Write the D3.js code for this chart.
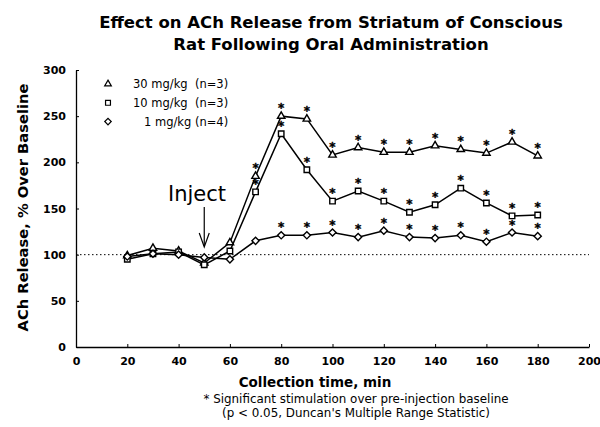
<!DOCTYPE html>
<html>
<head>
<meta charset="utf-8">
<script src="https://cdn.jsdelivr.net/npm/d3@7"></script>
<style>
  body { margin: 0; background: #fff; }
  svg { font-family: "DejaVu Sans", sans-serif; }
  text { white-space: pre; }
</style>
</head>
<body>
<svg id="chart" width="600" height="427"></svg>
<script>
// collection times (min)
const times = [20, 30, 40, 50, 60, 70, 80, 90, 100, 110, 120, 130, 140, 150, 160, 170, 180];

// ACh release, % over baseline
const dose30 = [99, 107, 104, 91, 113, 185, 250, 247, 208, 216, 211, 211, 218, 214, 210, 222, 207];
const dose10 = [95, 101, 103, 89, 104, 168, 231, 192, 158, 169, 158, 146, 154, 172, 156, 142, 143];
const dose1 = [98, 101, 100, 97, 95, 115, 121, 121, 124, 119, 126, 119, 118, 121, 114, 124, 120];

// first index that gets a significance star
const starFrom = { d30: 5, d10: 5, d1: 6 };

const xTicks = [0, 20, 40, 60, 80, 100, 120, 140, 160, 180, 200];
const yTicks = [0, 50, 100, 150, 200, 250, 300];

const series = [
  { key: "d30", label: "30 mg/kg  (n=3)", values: dose30, symbol: d3.symbolTriangle, size: 24, rot: 0 },
  { key: "d10", label: "10 mg/kg  (n=3)", values: dose10, symbol: d3.symbolSquare, size: 30, rot: 0 },
  { key: "d1", label: "1 mg/kg (n=4)", values: dose1, symbol: d3.symbolSquare, size: 26, rot: 45 }
];

const svg = d3.select("#chart");

const x = d3.scaleLinear().domain([0, 200]).range([76, 589]);
const y = d3.scaleLinear().domain([0, 300]).range([347, 70]);

// title
svg.append("text")
  .attr("x", 331).attr("y", 28)
  .attr("text-anchor", "middle")
  .attr("font-weight", "bold").attr("font-size", 16.5)
  .text("Effect on ACh Release from Striatum of Conscious");
svg.append("text")
  .attr("x", 331).attr("y", 50)
  .attr("text-anchor", "middle")
  .attr("font-weight", "bold").attr("font-size", 16.5)
  .text("Rat Following Oral Administration");

// axes
const xAxis = d3.axisBottom(x).tickValues(xTicks).tickSizeInner(-3).tickSizeOuter(0).tickPadding(10);
const yAxis = d3.axisLeft(y).tickValues(yTicks).tickSizeInner(-3).tickSizeOuter(0).tickPadding(10);

const gx = svg.append("g").attr("transform", "translate(0," + y(0) + ")").call(xAxis);
const gy = svg.append("g").attr("transform", "translate(" + x(0) + ",0)").call(yAxis);

[gx, gy].forEach((g) => {
  g.select(".domain").attr("stroke", "#000").attr("stroke-width", 1.3);
  g.selectAll(".tick line").attr("stroke", "#000");
  g.selectAll(".tick text")
    .attr("fill", "#000")
    .attr("font-size", 11)
    .attr("font-weight", "bold")
    .attr("font-family", "DejaVu Sans, sans-serif");
});

// baseline
svg.append("line")
  .attr("x1", x(0)).attr("x2", x(200))
  .attr("y1", y(100)).attr("y2", y(100))
  .attr("stroke", "#000").attr("stroke-width", 1)
  .attr("stroke-dasharray", "1.5,2.5");

// lines and markers
const line = d3.line().x((d) => x(d[0])).y((d) => y(d[1]));

series.forEach((s) => {
  const pts = times.map((t, i) => [t, s.values[i]]);
  svg.append("path")
    .datum(pts)
    .attr("d", line)
    .attr("fill", "none")
    .attr("stroke", "#000")
    .attr("stroke-width", 1.5);
});

series.forEach((s) => {
  const pts = times.map((t, i) => [t, s.values[i]]);
  svg.selectAll(".m-" + s.key)
    .data(pts)
    .enter()
    .append("path")
    .attr("d", d3.symbol().type(s.symbol).size(s.size))
    .attr("transform", (d) => "translate(" + x(d[0]) + "," + y(d[1]) + ") rotate(" + s.rot + ")")
    .attr("fill", "#fff")
    .attr("stroke", "#000")
    .attr("stroke-width", 1.4);

  // significance stars
  svg.selectAll(".s-" + s.key)
    .data(pts.slice(starFrom[s.key]))
    .enter()
    .append("text")
    .attr("x", (d) => x(d[0]))
    .attr("y", (d) => y(d[1]) - 4)
    .attr("text-anchor", "middle")
    .attr("font-size", 12)
    .attr("font-weight", "bold")
    .attr("fill", "#000")
    .attr("stroke", "#000")
    .attr("stroke-width", 0.4)
    .text("*");
});

// legend
series.forEach((s, i) => {
  const ly = 84 + i * 18.8;
  svg.append("path")
    .attr("d", d3.symbol().type(s.symbol).size(s.size * 0.8))
    .attr("transform", "translate(108," + ly + ") rotate(" + s.rot + ")")
    .attr("fill", "#fff")
    .attr("stroke", "#000")
    .attr("stroke-width", 1.2);
  svg.append("text")
    .attr("x", i === 2 ? 144 : 133)
    .attr("y", ly + 4)
    .attr("font-size", 11.5)
    .text(s.label);
});

// inject annotation
svg.append("text")
  .attr("x", 197).attr("y", 200.5)
  .attr("text-anchor", "middle")
  .attr("font-size", 21)
  .text("Inject");
svg.append("line")
  .attr("x1", x(50)).attr("x2", x(50))
  .attr("y1", 207).attr("y2", 246)
  .attr("stroke", "#000").attr("stroke-width", 1.2);
svg.append("path")
  .attr("d", "M" + (x(50) - 5) + ",233 L" + x(50) + ",247 L" + (x(50) + 5) + ",233")
  .attr("fill", "none").attr("stroke", "#000").attr("stroke-width", 1.2);

// axis titles
svg.append("text")
  .attr("x", 315).attr("y", 387)
  .attr("text-anchor", "middle")
  .attr("font-weight", "bold").attr("font-size", 13.5)
  .text("Collection time, min");

svg.append("text")
  .attr("transform", "translate(27.5,207.5) rotate(-90)")
  .attr("text-anchor", "middle")
  .attr("font-weight", "bold").attr("font-size", 14.7)
  .text("ACh Release, % Over Baseline");

// footnote
svg.append("text")
  .attr("x", 356).attr("y", 403)
  .attr("text-anchor", "middle")
  .attr("font-size", 11.9)
  .text("* Significant stimulation over pre-injection baseline");
svg.append("text")
  .attr("x", 356).attr("y", 417)
  .attr("text-anchor", "middle")
  .attr("font-size", 11.9)
  .text("(p < 0.05, Duncan's Multiple Range Statistic)");
</script>
</body>
</html>
